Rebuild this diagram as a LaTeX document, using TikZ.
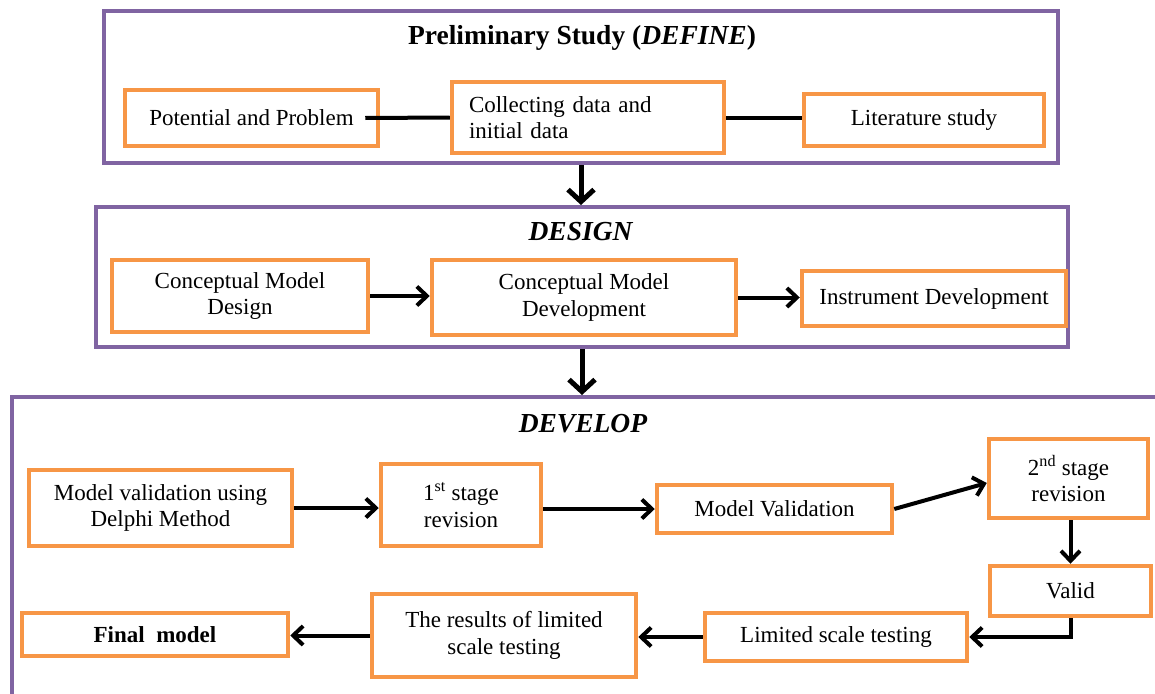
\documentclass[tikz,border=0pt]{standalone}
\usepackage{fontspec}
\setmainfont{Liberation Serif}
\usetikzlibrary{arrows.meta}
\definecolor{pur}{HTML}{8064A2}
\definecolor{org}{HTML}{F79646}
\begin{document}
\begin{tikzpicture}[x=1pt,y=-1pt,
  stage/.style={draw=pur,line width=4pt,rectangle,inner sep=0pt},
  box/.style={draw=org,line width=4.5pt,rectangle,inner sep=0pt,align=center,font=\fontsize{23}{26.5}\selectfont},
  ttl/.style={font=\fontsize{27.5}{30}\selectfont\bfseries,anchor=base,inner sep=0pt},
  link/.style={line width=4pt},
  arr/.style={line width=4pt,-{Straight Barb[length=10pt,width=19pt]}},
  bigarr/.style={line width=5pt,-{Straight Barb[length=12pt,width=26pt]}}]
\clip (0,0) rectangle (1155,693);
\fill[white] (0,0) rectangle (1155,693);
% stages
\node[stage,minimum width=954pt,minimum height=152pt] (def) at (581,87) {};
\node[stage,minimum width=972pt,minimum height=140pt] (des) at (582,277) {};
\node[stage,minimum width=1163pt,minimum height=318pt] (dev) at (593.5,556) {};
\node[ttl] (deft) at (582,45) {Preliminary Study (\textit{DEFINE})};
\node[ttl] (dest) at (581,240) {\textit{DESIGN}};
\node[ttl] (devt) at (583,432) {\textit{DEVELOP}};
% define
\node[box,minimum width=253pt,minimum height=56pt] (pot) at (251.5,118) {Potential and Problem};
\node[box,minimum width=272pt,minimum height=71pt,text width=238pt,inner xsep=17pt,align=left] (col) at (588,117.5) {Collecting data and\\initial data};
\node[box,minimum width=240pt,minimum height=52pt] (lit) at (924,120) {Literature study};
% design
\node[box,minimum width=256pt,minimum height=72pt] (cmd) at (240,296) {Conceptual Model\\Design};
\node[box,minimum width=304pt,minimum height=75pt] (cmv) at (584,297.5) {Conceptual Model\\Development};
\node[box,minimum width=264pt,minimum height=55pt] (ins) at (934,298.5) {Instrument Development};
% develop
\node[box,minimum width=263pt,minimum height=76pt] (mvd) at (160.5,508) {Model validation using\\Delphi Method};
\node[box,minimum width=160pt,minimum height=82pt] (s1) at (461,505) {1\textsuperscript{st} stage\\revision};
\node[box,minimum width=235pt,minimum height=48pt] (mv) at (774.5,509) {Model Validation};
\node[box,minimum width=159pt,minimum height=79pt] (s2) at (1068.5,478.5) {2\textsuperscript{nd} stage\\revision};
\node[box,minimum width=161pt,minimum height=50pt] (val) at (1070.5,591) {Valid};
\node[box,minimum width=262pt,minimum height=48pt] (lst) at (836,637) {Limited scale testing};
\node[box,minimum width=264pt,minimum height=83pt] (res) at (504,635.5) {The results of limited\\scale testing};
\node[box,minimum width=266pt,minimum height=43pt,font=\fontsize{23}{26.5}\selectfont\bfseries] (fin) at (155,634.5) {Final\ \ model};
% connectors
\draw[link] ([xshift=-15pt]pot.east) -- (col.west);
\draw[link] (col.east) -- (col.east -| lit.west);
\draw[bigarr] (def.south) -- (def.south |- des.north);
\draw[bigarr] (des.south) -- (des.south |- dev.north);
\draw[arr] (cmd.east) -- (cmd.east -| cmv.west);
\draw[arr] (cmv.east) -- (cmv.east -| ins.west);
\draw[arr] (mvd.east) -- (mvd.east -| s1.west);
\draw[arr] (mv.west -| s1.east) -- (mv.west);
\draw[arr] (mv.east) -- ([yshift=-4.5pt]s2.west);
\draw[arr] (val.north |- s2.south) -- (val.north);
\draw[arr] (val.south) |- (lst.east);
\draw[arr] (lst.west) -- (lst.west -| res.east);
\draw[arr] (res.west) -- (res.west -| fin.east);
\end{tikzpicture}
\end{document}
